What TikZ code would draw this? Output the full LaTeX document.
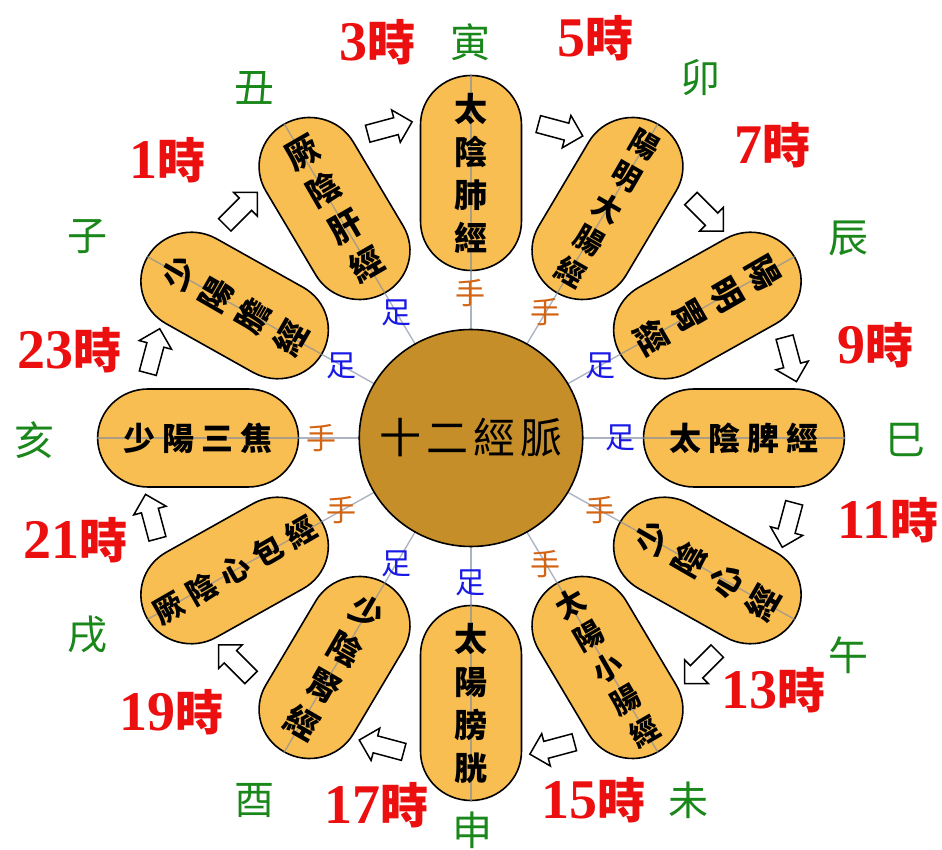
\documentclass[tikz,border=0pt]{standalone}
\usepackage{fontspec}
\setmainfont{Liberation Serif}
\newfontfamily\cjk{Noto Sans CJK TC}
\newfontfamily\numf{Liberation Serif}
\usetikzlibrary{shapes.misc,shapes.arrows}
\definecolor{capfill}{RGB}{249,190,82}
\definecolor{hubfill}{RGB}{198,142,40}
\definecolor{spokec}{RGB}{130,140,160}
\definecolor{handc}{RGB}{210,100,20}
\definecolor{footc}{RGB}{25,25,230}
\definecolor{hourc}{RGB}{235,15,15}
\definecolor{branchc}{RGB}{25,135,25}
\newcommand\gapx{\hspace{7pt}}
\newcommand\hr[1]{{\fontsize{56}{56}\selectfont\numf\bfseries #1}{\fontsize{48}{48}\selectfont\cjk\bfseries 時}}
\tikzset{
  capsule/.style={rounded rectangle, draw=black, line width=1.6pt, fill=capfill,
    minimum width=195pt, minimum height=98pt, inner sep=0pt},
  hubdisc/.style={circle, draw=black, line width=1.6pt, fill=hubfill, minimum size=217pt, inner sep=0pt},
  spokeline/.style={draw=spokec, line width=1.4pt, opacity=0.65},
  vtext/.style={align=center, inner sep=0pt, font=\cjk\bfseries\fontsize{33}{43}\selectfont},
  vtextfive/.style={align=center, inner sep=0pt, font=\cjk\bfseries\fontsize{29}{37}\selectfont},
  htext/.style={inner sep=0pt, font=\cjk\bfseries\fontsize{32}{32}\selectfont},
  htextfive/.style={inner sep=0pt, font=\cjk\bfseries\fontsize{30}{30}\selectfont},
  handlbl/.style={inner sep=0pt, text=handc, font=\cjk\fontsize{30}{30}\selectfont},
  footlbl/.style={inner sep=0pt, text=footc, font=\cjk\fontsize{30}{30}\selectfont},
  hourlbl/.style={inner sep=0pt, text=hourc},
  branchlbl/.style={inner sep=0pt, text=branchc, font=\cjk\fontsize{40}{40}\selectfont},
  flowarrow/.style={single arrow, draw=black, fill=white, line width=1.5pt,
    minimum height=46pt, single arrow head extend=8pt,
    single arrow head indent=0pt, inner sep=0pt}
}
\begin{document}
\begin{tikzpicture}[x=1pt,y=1pt]
\useasboundingbox[fill=white] (-471,-412) rectangle (471,438);
\coordinate (o) at (0,0);
% capsules
\begin{scope}[xscale=1.03, transform shape]
  \foreach \n/\a in {zi/150, chou/120, yin/90, mao/60, chen/30, si/0, wu/-30, wei/-60, shen/-90, you/-120, xu/-150, hai/180}
    \node[capsule, rotate=\a] (cap-\n) at (\a:265) {};
\end{scope}
% spokes
\foreach \n in {zi, chou, yin, mao, chen, si, wu, wei, shen, you, xu, hai}
  \draw[spokeline] (o) -- (cap-\n.east);
% hub
\begin{scope}[xscale=1.03, transform shape]
  \node[hubdisc] (hub) at (o) {};
\end{scope}
\node[inner sep=0pt, font=\cjk\fontsize{42}{42}\selectfont] (hubtext) at (hub.center) {十\hspace{5pt}二\hspace{5pt}經\hspace{5pt}脈};
% capsule texts
\node[vtext] (t-yin) at (cap-yin.center) {太\\陰\\肺\\經};
\node[vtextfive, rotate=-30] (t-mao) at (cap-mao.center) {陽\\明\\大\\腸\\經};
\node[vtext, rotate=-60] (t-chen) at (cap-chen.center) {陽\\明\\胃\\經};
\node[htext] (t-si) at (cap-si.center) {太\gapx 陰\gapx 脾\gapx 經};
\node[vtext, rotate=60] (t-wu) at (cap-wu.center) {少\\陰\\心\\經};
\node[vtextfive, rotate=30] (t-wei) at (cap-wei.center) {太\\陽\\小\\腸\\經};
\node[vtext] (t-shen) at (cap-shen.center) {太\\陽\\膀\\胱};
\node[vtext, rotate=-30] (t-you) at (cap-you.center) {少\\陰\\腎\\經};
\node[htextfive, rotate=30] (t-xu) at (cap-xu.center) {厥\hspace{8pt}陰\hspace{8pt}心\hspace{8pt}包\hspace{8pt}經};
\node[htext] (t-hai) at (cap-hai.center) {少\gapx 陽\gapx 三\gapx 焦};
\node[vtext, rotate=60] (t-zi) at (cap-zi.center) {少\\陽\\膽\\經};
\node[vtext, rotate=30] (t-chou) at (cap-chou.center) {厥\\陰\\肝\\經};
% hand / foot labels and flow arrows
\begin{scope}[xscale=1.03]
  \foreach \n/\a/\s/\c in {yin/90/handlbl/手, mao/60/handlbl/手, chen/30/footlbl/足, si/0/footlbl/足, wu/-30/handlbl/手, wei/-60/handlbl/手, shen/-90/footlbl/足, you/-120/footlbl/足, xu/-150/handlbl/手, hai/180/handlbl/手, zi/150/footlbl/足, chou/120/footlbl/足}
    \node[\s] (hf-\n) at (\a:145) {\c};
  \foreach \i/\a in {1/105, 2/75, 3/45, 4/15, 5/-15, 6/-45, 7/-75, 8/-105, 9/-135, 10/-165, 11/165, 12/135}
    \node[flowarrow, rotate=\a-90] (f\i) at (\a:320) {\rule{0pt}{16pt}};
\end{scope}
% hour labels
\node[hourlbl] (h3) at (-93,396) {\hr{3}};
\node[hourlbl] (h5) at (124,400) {\hr{5}};
\node[hourlbl] (h7) at (301,293) {\hr{7}};
\node[hourlbl] (h9) at (404,93) {\hr{9}};
\node[hourlbl] (h11) at (417,-82) {\hr{11}};
\node[hourlbl] (h13) at (302,-252) {\hr{13}};
\node[hourlbl] (h15) at (122,-362) {\hr{15}};
\node[hourlbl] (h17) at (-94,-367) {\hr{17}};
\node[hourlbl] (h19) at (-299,-274) {\hr{19}};
\node[hourlbl] (h21) at (-395,-102) {\hr{21}};
\node[hourlbl] (h23) at (-401,88) {\hr{23}};
\node[hourlbl] (h1) at (-303,278) {\hr{1}};
% branch labels
\node[branchlbl] (b-yin) at (0,396) {寅};
\node[branchlbl] (b-mao) at (229,360) {卯};
\node[branchlbl] (b-chen) at (377,200) {辰};
\node[branchlbl] (b-si) at (434,-2) {巳};
\node[branchlbl] (b-wu) at (377,-217) {午};
\node[branchlbl] (b-wei) at (217,-362) {未};
\node[branchlbl] (b-shen) at (2,-392) {申};
\node[branchlbl] (b-you) at (-216,-362) {酉};
\node[branchlbl] (b-xu) at (-383,-197) {戌};
\node[branchlbl] (b-hai) at (-436,-2) {亥};
\node[branchlbl] (b-zi) at (-383,201) {子};
\node[branchlbl] (b-chou) at (-216,350) {丑};
\end{tikzpicture}
\end{document}
